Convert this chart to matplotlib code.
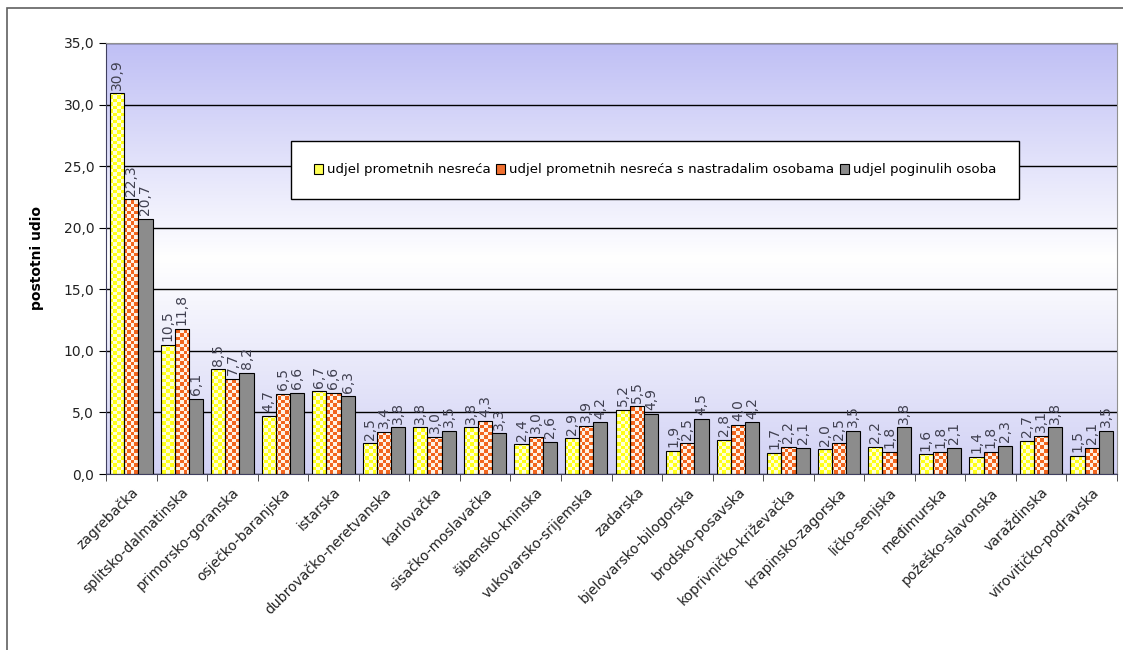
import numpy as np
import matplotlib
matplotlib.use("Agg")
import matplotlib.pyplot as plt
from matplotlib.patches import Rectangle, Patch
from matplotlib.ticker import FuncFormatter, MultipleLocator

zupanije = ["zagrebačka", "splitsko-dalmatinska", "primorsko-goranska", "osječko-baranjska",
            "istarska", "dubrovačko-neretvanska", "karlovačka", "sisačko-moslavačka",
            "šibensko-kninska", "vukovarsko-srijemska", "zadarska", "bjelovarsko-bilogorska",
            "brodsko-posavska", "koprivničko-križevačka", "krapinsko-zagorska", "ličko-senjska",
            "međimurska", "požeško-slavonska", "varaždinska", "virovitičko-podravska"]
nesrece = [30.9, 10.5, 8.5, 4.7, 6.7, 2.5, 3.8, 3.8, 2.4, 2.9, 5.2, 1.9, 2.8, 1.7, 2.0, 2.2, 1.6, 1.4, 2.7, 1.5]
nastradali = [22.3, 11.8, 7.7, 6.5, 6.6, 3.4, 3.0, 4.3, 3.0, 3.9, 5.5, 2.5, 4.0, 2.2, 2.5, 1.8, 1.8, 1.8, 3.1, 2.1]
poginuli = [20.7, 6.1, 8.2, 6.6, 6.3, 3.8, 3.5, 3.3, 2.6, 4.2, 4.9, 4.5, 4.2, 2.1, 3.5, 3.8, 2.1, 2.3, 3.8, 3.5]
legenda = ["udjel prometnih nesreća", "udjel prometnih nesreća s nastradalim osobama", "udjel poginulih osoba"]

W, H = 1123, 650
fig = plt.figure(figsize=(W / 100, H / 100), dpi=100)
# outer frame (left and top visible)
fig.patches.append(Rectangle((7 / W, -0.1), 1.2, 1 - 8 / H + 0.1, transform=fig.transFigure,
                             fill=False, edgecolor="#606060", linewidth=1.2))

ax = fig.add_axes([106 / W, 1 - 474 / H, (1117 - 106) / W, (474 - 43) / H])
n = len(zupanije)
x0, x1 = -0.5, n - 0.5
y0, y1 = 0, 35

# background gradient: lavender top, white middle, lavender bottom
t = np.linspace(0, 1, 256)[:, None]  # 0 bottom, 1 top
bot = np.array([0.82, 0.82, 0.96])
top = np.array([0.75, 0.75, 0.96])
wh = np.array([1.0, 1.0, 1.0])
mid = 0.5
grad = np.where(t < mid, bot + (wh - bot) * (t / mid), wh + (top - wh) * ((t - mid) / (1 - mid)))
grad = np.repeat(grad[:, None, :], 2, axis=1).reshape(256, 2, 3)
ax.imshow(grad, extent=(x0, x1, y0, y1), origin="lower", aspect="auto", zorder=0,
          interpolation="bilinear")


def checker(c1, c2, rows=123, cols=289):
    ii, jj = np.indices((rows, cols))
    m = ((ii + jj) % 2 == 0)[..., None]
    return np.where(m, np.array(c1), np.array(c2))


pats = [checker([1.0, 1.0, 0.1], [1.0, 1.0, 0.85]),
        checker([0.95, 0.40, 0.12], [1.0, 0.95, 0.90]),
        None]
colors = ["#ffff33", "#f06020", "#8c8c8c"]
serije = [nesrece, nastradali, poginuli]
bw = 0.28
xs = np.arange(n)
for k, (vals, pat, col) in enumerate(zip(serije, pats, colors)):
    pos = xs + (k - 1) * bw
    bars = ax.bar(pos, vals, width=bw, facecolor=col if pat is None else "none",
                  edgecolor="black", linewidth=0.8, zorder=3)
    if pat is not None:
        for b in bars:
            im = ax.imshow(pat, extent=(x0, x1, y0, y1), origin="lower", aspect="auto",
                           interpolation="nearest", zorder=2)
            im.set_clip_path(b)
    for p, v in zip(pos, vals):
        ax.text(p, v + 0.3, f"{v:.1f}".replace(".", ","), rotation=90, ha="center", va="bottom",
                fontsize=10, color="#404050", zorder=4)

ax.set_xlim(x0, x1)
ax.set_ylim(y0, y1)
ax.yaxis.set_major_locator(MultipleLocator(5))
ax.yaxis.set_major_formatter(FuncFormatter(lambda v, p: f"{v:.1f}".replace(".", ",")))
ax.set_axisbelow(True)
ax.yaxis.grid(True, color="black", linewidth=1.0)
ax.set_xticks(xs)
ax.set_xticklabels(zupanije, rotation=45, ha="right", rotation_mode="anchor", fontsize=10,
                   color="#222222")
ax.tick_params(axis="x", which="major", length=0, pad=8)
ax.set_xticks(np.arange(n + 1) - 0.5, minor=True)
ax.tick_params(axis="x", which="minor", length=5, direction="out", color="#333333")
ax.tick_params(axis="y", length=5, direction="out", labelsize=10, labelcolor="#222222")
for s in ["top", "right"]:
    ax.spines[s].set_color("#909090")
ax.spines["left"].set_color("#404060")
ax.spines["bottom"].set_color("#404060")
ax.set_ylabel("postotni udio", fontsize=10, fontweight="bold", labelpad=14)

handles = [Patch(facecolor="#ffff55", edgecolor="black", linewidth=0.8),
           Patch(facecolor="#f07030", edgecolor="black", linewidth=0.8),
           Patch(facecolor="#8c8c8c", edgecolor="black", linewidth=0.8)]
leg = fig.legend(handles, legenda, ncol=3, loc="center",
                 bbox_to_anchor=(655 / W, 1 - 170 / H), fontsize=9.6, frameon=True,
                 fancybox=False, framealpha=1, borderpad=1.7, handlelength=0.7,
                 handleheight=0.7, handletextpad=0.3, columnspacing=0.4, borderaxespad=0)
leg.get_frame().set_edgecolor("black")
leg.get_frame().set_facecolor("white")
leg.get_frame().set_linewidth(1.0)
leg.set_zorder(10)

fig.savefig("out.png", dpi=100)
